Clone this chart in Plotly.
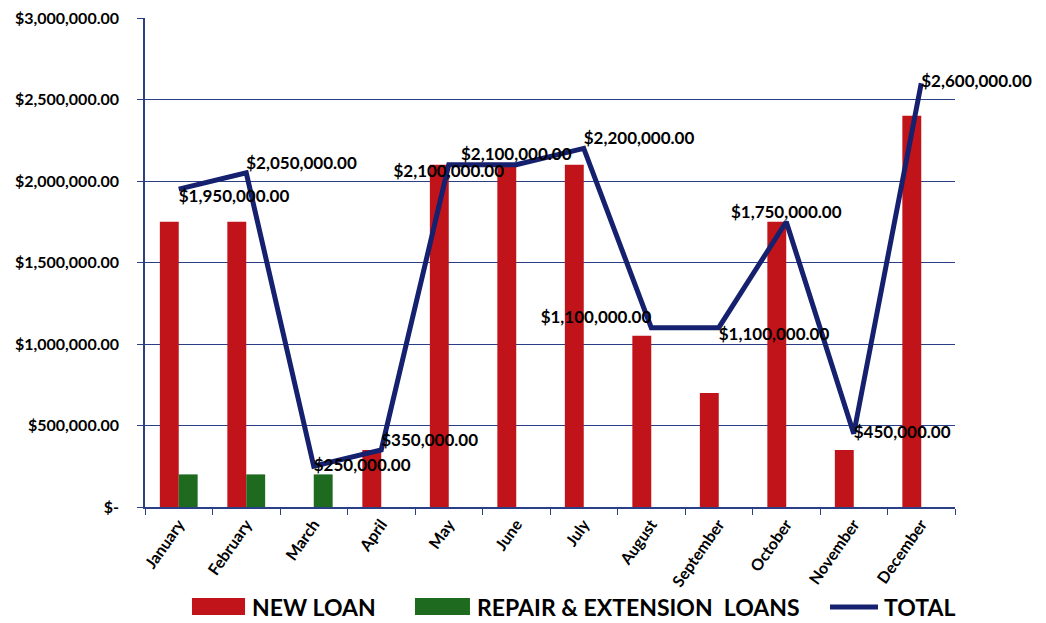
import plotly.graph_objects as go

months = ["January", "February", "March", "April", "May", "June", "July",
          "August", "September", "October", "November", "December"]
new_loan = [1750000, 1750000, 0, 350000, 2100000, 2100000, 2100000,
            1050000, 700000, 1750000, 350000, 2400000]
repair_ext = [200000, 200000, 200000, 0, 0, 0, 0, 0, 0, 0, 0, 0]
total = [1950000, 2050000, 250000, 350000, 2100000, 2100000, 2200000,
         1100000, 1100000, 1750000, 450000, 2600000]
label_pos = ["bottom right", "top right", "middle right", "top right",
             "bottom center", "top center", "top right", "top left",
             "bottom right", "top center", "middle right", "middle right"]
tick_vals = [0, 500000, 1000000, 1500000, 2000000, 2500000, 3000000]
tick_text = ["$-", "$500,000.00", "$1,000,000.00", "$1,500,000.00",
             "$2,000,000.00", "$2,500,000.00", "$3,000,000.00"]
legend_names = ["NEW LOAN", "REPAIR & EXTENSION  LOANS", "TOTAL"]

FONT = "Lato"
NAVY = "#15206e"
GRID = "#2a3f86"
RED = "#c0141a"
GREEN = "#1e6a1e"

fig = go.Figure()
fig.add_trace(go.Bar(x=months, y=new_loan, name=legend_names[0],
                     marker=dict(color=RED, line=dict(width=0))))
fig.add_trace(go.Bar(x=months, y=repair_ext, name=legend_names[1],
                     marker=dict(color=GREEN, line=dict(width=0))))
fig.add_trace(go.Scatter(
    x=months, y=total, name=legend_names[2], mode="lines+text",
    line=dict(color=NAVY, width=5),
    text=[f"${v:,.2f}" for v in total], textposition=label_pos,
    textfont=dict(family=FONT, size=17, color="black", weight="bold"),
    cliponaxis=False))

# custom legend (large swatches as in the reference)
ly0, ly1, lyc = -0.2209, -0.1861, -0.2045
shapes = [
    dict(type="rect", xref="paper", yref="paper", x0=0.058, x1=0.1235,
         y0=ly0, y1=ly1, fillcolor=RED, line=dict(width=0)),
    dict(type="rect", xref="paper", yref="paper", x0=0.3333, x1=0.4012,
         y0=ly0, y1=ly1, fillcolor=GREEN, line=dict(width=0)),
    dict(type="line", xref="paper", yref="paper", x0=0.8457, x1=0.9049,
         y0=lyc, y1=lyc, line=dict(color=NAVY, width=5)),
]
legend_x = [0.1296, 0.4074, 0.9099]
annotations = [
    dict(xref="paper", yref="paper", x=lx, y=lyc, text=name, showarrow=False,
         xanchor="left", yanchor="middle",
         font=dict(family=FONT, size=23, color="black", weight="bold"))
    for lx, name in zip(legend_x, legend_names)
]

fig.update_layout(
    width=1038, height=615,
    paper_bgcolor="white", plot_bgcolor="white",
    margin=dict(l=137, r=91, t=10, b=116),
    barmode="group", bargap=0.44, bargroupgap=0.0,
    font=dict(family=FONT, color="black"),
    showlegend=False,
    shapes=shapes, annotations=annotations,
    xaxis=dict(type="category", range=[-0.5, 11.5], autorange=False,
               showline=True, linecolor=GRID, linewidth=1.5,
               ticks="outside", tickson="boundaries", tickcolor=GRID,
               ticklen=6, tickangle=-55, automargin=False,
               tickfont=dict(family=FONT, size=16, color="black", weight="bold"),
               showgrid=False),
    yaxis=dict(range=[0, 3000000], tickvals=tick_vals, ticktext=tick_text,
               showline=True, linecolor=GRID, linewidth=1.5,
               showgrid=True, gridcolor=GRID, gridwidth=1.2,
               ticks="outside", tickcolor=GRID, ticklen=6,
               ticklabelstandoff=15, zeroline=False, automargin=False,
               ticklabeloverflow="allow",
               tickfont=dict(family=FONT, size=16, color="black", weight="bold")),
)

fig.write_html("out.html")
